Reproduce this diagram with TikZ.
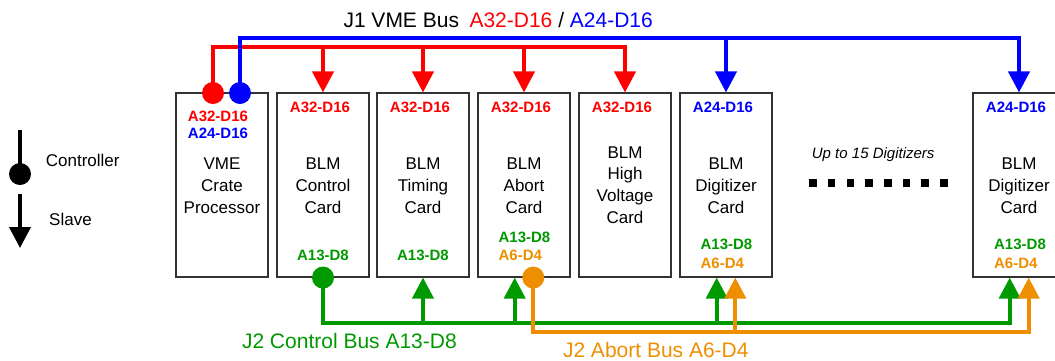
\documentclass[tikz,border=0pt]{standalone}
\usepackage{fontspec}
\setmainfont{Liberation Sans}
\usetikzlibrary{arrows.meta,calc}
\definecolor{vred}{RGB}{255,0,0}
\definecolor{vblue}{RGB}{0,0,255}
\definecolor{vgreen}{RGB}{0,153,0}
\definecolor{vorange}{RGB}{237,143,0}
\definecolor{boxline}{RGB}{50,50,50}
\tikzset{
  cardbox/.style={draw=boxline, line width=1.1pt, minimum width=92pt, minimum height=184pt, inner sep=0pt},
  maintxt/.style={font=\fontsize{17}{20}\selectfont, anchor=base, inner sep=0pt},
  lab/.style={font=\fontsize{15}{18}\selectfont\bfseries, anchor=base, inner sep=0pt},
  bigtxt/.style={font=\fontsize{21}{24}\selectfont, anchor=base west, inner sep=0pt},
  bus/.style={line width=4pt},
  arr/.style={-{Triangle[width=21pt,length=21pt]}},
  ctrldot/.style={circle, minimum size=22pt, inner sep=0pt, draw=none},
  sq/.style={fill=black, minimum size=7.5pt, inner sep=0pt, draw=none},
}
\begin{document}
\begin{tikzpicture}[x=1pt,y=-1pt]
\useasboundingbox (0,0) rectangle (1055,360);
\clip (0,0) rectangle (1055,360);
% cards
\node[cardbox] (vme)    at (222,185) {};
\node[cardbox] (ctrl)   at (323,185) {};
\node[cardbox] (timing) at (423,185) {};
\node[cardbox] (abort)  at (524,185) {};
\node[cardbox] (hv)     at (625,185) {};
\node[cardbox] (dig1)   at (726,185) {};
\node[cardbox] (dig2)   at (1019,185) {};
% main texts
\node[maintxt] (vme1) at (222,169) {VME};
\node[maintxt] (vme2) at (222,191) {Crate};
\node[maintxt] (vme3) at (222,213) {Processor};
\node[maintxt] (ctrl1) at (323,169) {BLM};
\node[maintxt] (ctrl2) at (323,191) {Control};
\node[maintxt] (ctrl3) at (323,213) {Card};
\node[maintxt] (tim1) at (423,169) {BLM};
\node[maintxt] (tim2) at (423,191) {Timing};
\node[maintxt] (tim3) at (423,213) {Card};
\node[maintxt] (ab1) at (524,169) {BLM};
\node[maintxt] (ab2) at (524,191) {Abort};
\node[maintxt] (ab3) at (524,213) {Card};
\node[maintxt] (hv1) at (625,158) {BLM};
\node[maintxt] (hv2) at (625,179.7) {High};
\node[maintxt] (hv3) at (625,201.4) {Voltage};
\node[maintxt] (hv4) at (625,223) {Card};
\node[maintxt] (da1) at (726,169) {BLM};
\node[maintxt] (da2) at (726,191) {Digitizer};
\node[maintxt] (da3) at (726,213) {Card};
\node[maintxt] (db1) at (1019,169) {BLM};
\node[maintxt] (db2) at (1019,191) {Digitizer};
\node[maintxt] (db3) at (1019,213) {Card};
% top labels
\node[lab, text=vred]  (vmeA) at (218,121.4) {A32-D16};
\node[lab, text=vblue] (vmeB) at (218,138.7) {A24-D16};
\node[lab, text=vred]  (ctrlA) at (320,112.7) {A32-D16};
\node[lab, text=vred]  (timA) at (420,112.7) {A32-D16};
\node[lab, text=vred]  (abA) at (521,112.7) {A32-D16};
\node[lab, text=vred]  (hvA) at (622,112.7) {A32-D16};
\node[lab, text=vblue] (daA) at (723,112.7) {A24-D16};
\node[lab, text=vblue] (dbA) at (1016,112.7) {A24-D16};
% bottom labels
\node[lab, text=vgreen] (ctrlG) at (323,260.4) {A13-D8};
\node[lab, text=vgreen] (timG) at (423,260.4) {A13-D8};
\node[lab, text=vgreen] (abG13) at (524.5,242) {A13-D8};
\node[lab, text=vorange, anchor=base west] (abO) at (abG13.west |- 0,260.4) {A6-D4};
\node[lab, text=vgreen] (daG) at (726.5,249.5) {A13-D8};
\node[lab, text=vorange, anchor=base west] (daO) at (daG.west |- 0,268.2) {A6-D4};
\node[lab, text=vgreen] (dbG) at (1020,249.8) {A13-D8};
\node[lab, text=vorange, anchor=base west] (dbO) at (dbG.west |- 0,268.6) {A6-D4};
% titles
\node[bigtxt] (j1) at (343.3,27.3) {J1 VME Bus\hspace{10.5pt}\textcolor{vred}{A32-D16} / \textcolor{vblue}{A24-D16}};
\node[bigtxt, text=vgreen] (j2c) at (241.8,348.3) {J2 Control Bus A13-D8};
\node[bigtxt, text=vorange] (j2a) at (562.8,357.3) {J2 Abort Bus A6-D4};
\node[font=\fontsize{15}{18}\selectfont\itshape, anchor=base west, inner sep=0pt] (upto) at (811.7,158) {Up to 15 Digitizers};
\foreach \i in {0,...,7} \node[sq] (sq\i) at ({813+18.7*\i},183) {};
% bus levels
\coordinate (bluey) at (0,37.7);
\coordinate (redy) at (0,46.7);
\coordinate (greeny) at (0,322.7);
\coordinate (orangey) at (0,331.7);
\coordinate (rcp) at (213,93);
\coordinate (bcp) at (240,93);
\coordinate (gcp) at (ctrl.south);
\coordinate (ocp) at ([xshift=9.3pt]abort.south);
\coordinate (abGp) at ([xshift=-9.3pt]abort.south);
\coordinate (d1G) at ([xshift=-9.3pt]dig1.south);
\coordinate (d2G) at ([xshift=-9.3pt]dig2.south);
\coordinate (d1O) at ([xshift=9.3pt]dig1.south);
\coordinate (d2O) at ([xshift=9.7pt]dig2.south);
% J1 red
\draw[bus,vred,arr] (rcp) -- (rcp |- redy) -| (hv.north);
\foreach \b in {ctrl,timing,abort} \draw[bus,vred,arr] (\b.north |- redy) -- (\b.north);
% J1 blue
\draw[bus,vblue,arr] (bcp) -- (bcp |- bluey) -| (dig2.north);
\draw[bus,vblue,arr] (dig1.north |- bluey) -- (dig1.north);
% J2 green
\draw[bus,vgreen,arr] (gcp) -- (gcp |- greeny) -| (d2G);
\draw[bus,vgreen,arr] (timing.south |- greeny) -- (timing.south);
\draw[bus,vgreen,arr] (abGp |- greeny) -- (abGp);
\draw[bus,vgreen,arr] (d1G |- greeny) -- (d1G);
% J2 orange
\draw[bus,vorange,arr] (ocp) -- (ocp |- orangey) -| (d2O);
\draw[bus,vorange,arr] (d1O |- orangey) -- (d1O);
% controller dots
\node[ctrldot, fill=vred] (rc) at (rcp) {};
\node[ctrldot, fill=vblue] (bc) at (bcp) {};
\node[ctrldot, fill=vgreen] (gc) at (gcp) {};
\node[ctrldot, fill=vorange] (oc) at (ocp) {};
% legend
\coordinate (lc1) at (20,130);
\coordinate (lcp) at (20,174);
\draw[bus] (lc1) -- (lcp);
\node[ctrldot, fill=black] (lcdot) at (lcp) {};
\node[maintxt, anchor=base west] (lctext) at (45.7,166.8) {Controller};
\coordinate (ls1) at (20,194);
\coordinate (ls2) at (20,248);
\draw[bus,arr] (ls1) -- (ls2);
\node[maintxt, anchor=base west] (lstext) at (49,225.4) {Slave};
\end{tikzpicture}
\end{document}
